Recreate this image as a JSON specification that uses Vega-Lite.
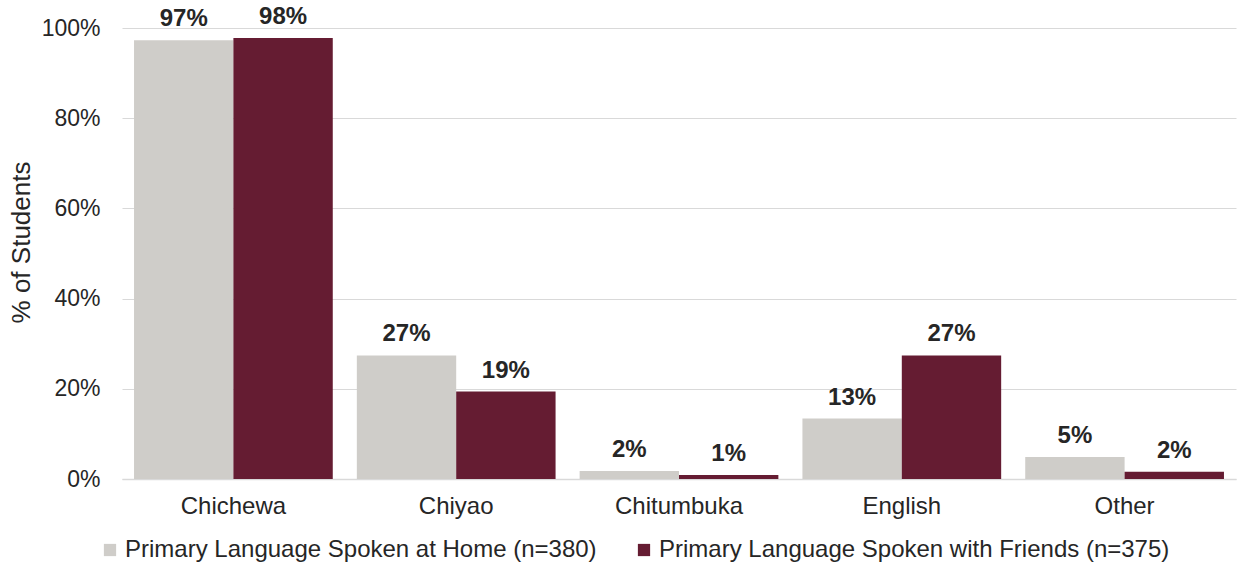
{
  "$schema": "https://vega.github.io/schema/vega-lite/v6.json",
  "width": 1114,
  "height": 451,
  "autosize": {"type": "none"},
  "padding": {"left": 122, "right": 2, "top": 28, "bottom": 88},
  "background": "white",
  "config": {
    "font": "Liberation Sans",
    "view": {"stroke": null},
    "axis": {"labelColor": "#262626", "titleColor": "#262626"}
  },
  "data": {
    "values": [
      {"language": "Chichewa", "series": "Primary Language Spoken at Home (n=380)", "value": 0.973},
      {"language": "Chichewa", "series": "Primary Language Spoken with Friends (n=375)", "value": 0.978},
      {"language": "Chiyao", "series": "Primary Language Spoken at Home (n=380)", "value": 0.274},
      {"language": "Chiyao", "series": "Primary Language Spoken with Friends (n=375)", "value": 0.194},
      {"language": "Chitumbuka", "series": "Primary Language Spoken at Home (n=380)", "value": 0.018},
      {"language": "Chitumbuka", "series": "Primary Language Spoken with Friends (n=375)", "value": 0.009},
      {"language": "English", "series": "Primary Language Spoken at Home (n=380)", "value": 0.134},
      {"language": "English", "series": "Primary Language Spoken with Friends (n=375)", "value": 0.274},
      {"language": "Other", "series": "Primary Language Spoken at Home (n=380)", "value": 0.049},
      {"language": "Other", "series": "Primary Language Spoken with Friends (n=375)", "value": 0.016}
    ]
  },
  "encoding": {
    "x": {
      "field": "language", "type": "nominal", "sort": null,
      "scale": {"paddingInner": 0.108, "paddingOuter": 0.054},
      "axis": {"title": null, "labelAngle": 0, "labelFontSize": 24, "labelPadding": 15, "ticks": false, "domainColor": "#D9D9D9", "domainWidth": 1.5}
    },
    "xOffset": {"field": "series", "type": "nominal"},
    "y": {
      "field": "value", "type": "quantitative",
      "scale": {"domain": [0, 1]},
      "axis": {"title": "% of Students", "titleFontSize": 26, "titleFontWeight": "normal", "titlePadding": 7, "titleY": 214, "format": ".0%", "tickCount": 5, "labelFontSize": 23, "labelPadding": 22, "ticks": false, "domain": false, "gridColor": "#D9D9D9", "gridWidth": 1}
    }
  },
  "layer": [
    {
      "mark": {"type": "bar"},
      "encoding": {
        "color": {
          "field": "series", "type": "nominal",
          "scale": {"range": ["#CFCDC9", "#651C32"]},
          "legend": {"orient": "none", "legendX": -24, "legendY": 510, "title": null, "direction": "horizontal", "symbolType": "square", "symbolSize": 150, "symbolStrokeWidth": 0, "labelFontSize": 24, "labelLimit": 700, "labelColor": "#262626", "columnPadding": 35, "labelOffset": 3}
        }
      }
    },
    {
      "mark": {"type": "text", "dy": -14, "baseline": "alphabetic", "fontSize": 24, "fontWeight": "bold", "color": "#262626"},
      "encoding": {
        "text": {"field": "value", "type": "quantitative", "format": ".0%"}
      }
    }
  ]
}
